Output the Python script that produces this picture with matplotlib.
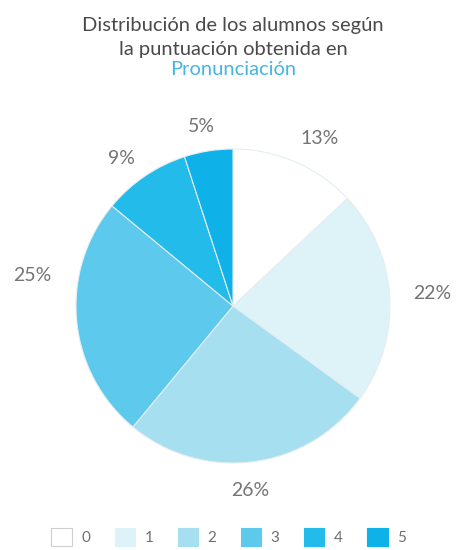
import matplotlib
matplotlib.use("Agg")
import matplotlib.pyplot as plt
from matplotlib.patches import Patch
import numpy as np

plt.rcParams['font.family'] = ['Lato', 'DejaVu Sans']

# ---- data ----
categories = ['0', '1', '2', '3', '4', '5']
values = [13, 22, 26, 25, 9, 5]
pct_labels = ['13%', '22%', '26%', '25%', '9%', '5%']
colors = ['#ffffff', '#ddf3f8', '#a6dff0', '#5cc9ed', '#22bbea', '#0eb2e8']

title_lines = ['Distribución de los alumnos según', 'la puntuación obtenida en']
title_highlight = 'Pronunciación'

# ---- style ----
label_dist = [1.2, 1.27, 1.18, 1.29, 1.18, 1.16]
label_angle_offset = [-4, 0, -2, -14, 3, 1]

W, H = 457, 550
fig = plt.figure(figsize=(W / 100, H / 100), dpi=100)
cx, cy, r = 233, 306, 157
ax = fig.add_axes([(cx - r) / W, (H - cy - r) / H, 2 * r / W, 2 * r / H])

wedges, _ = ax.pie(values, colors=colors, startangle=90, counterclock=False,
                   radius=1.0,
                   wedgeprops=dict(edgecolor='#e4eef1', linewidth=0.8))
ax.set_xlim(-1, 1)
ax.set_ylim(-1, 1)
ax.set_aspect('equal')
ax.axis('off')

for w, lab, d, off in zip(wedges, pct_labels, label_dist, label_angle_offset):
    ang = np.deg2rad((w.theta1 + w.theta2) / 2 + off)
    ax.text(d * np.cos(ang), d * np.sin(ang), lab, ha='center', va='center',
            fontsize=14, color='#747474', clip_on=False)

# title
tx = 233 / W
fig.text(tx, 1 - 26 / H, title_lines[0], ha='center', va='center',
         fontsize=14.5, color='#4a4a4a')
fig.text(tx, 1 - 49 / H, title_lines[1], ha='center', va='center',
         fontsize=14.5, color='#4a4a4a')
fig.text(tx, 1 - 70 / H, title_highlight, ha='center', va='center',
         fontsize=14.5, color='#45b6e2')

# legend
handles = [Patch(facecolor=c, edgecolor=('#cfcfcf' if i == 0 else c), linewidth=0.8)
           for i, c in enumerate(colors)]
fig.legend(handles, categories, loc='center', bbox_to_anchor=(0.5, 1 - 537 / H),
           ncol=6, frameon=False, fontsize=11, handlelength=1.35, handleheight=1.35,
           handletextpad=0.6, columnspacing=1.6, labelcolor='#707070')

fig.savefig('out.png', dpi=100, facecolor='white')
